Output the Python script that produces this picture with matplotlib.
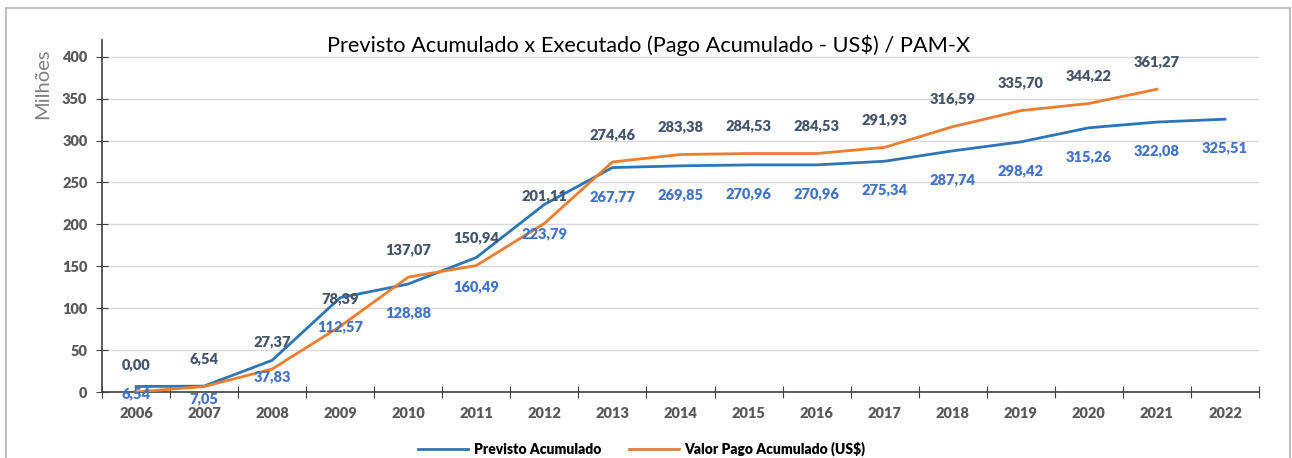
import matplotlib.pyplot as plt
from matplotlib.patches import Rectangle

plt.rcParams['font.family'] = ['Lato', 'DejaVu Sans']

anos = ['2006', '2007', '2008', '2009', '2010', '2011', '2012', '2013', '2014',
        '2015', '2016', '2017', '2018', '2019', '2020', '2021', '2022']
previsto = [6.54, 7.05, 37.83, 112.57, 128.88, 160.49, 223.79, 267.77, 269.85,
            270.96, 270.96, 275.34, 287.74, 298.42, 315.26, 322.08, 325.51]
pago = [0.00, 6.54, 27.37, 78.39, 137.07, 150.94, 201.11, 274.46, 283.38,
        284.53, 284.53, 291.93, 316.59, 335.70, 344.22, 361.27]

# deslocamento (px) dos rotulos azuis abaixo do ponto
desloc_azul = [7.5, 13, 16] + [29] * 14

cor_azul = '#2E75B6'
cor_laranja = '#ED7D31'
cor_rot_azul = '#4472C4'
cor_rot_escuro = '#44546A'
cinza = '#595959'
peso = 'heavy'


def fmt(v):
    return f'{v:.2f}'.replace('.', ',')


W, H = 1292, 458
fig = plt.figure(figsize=(W / 100, H / 100), dpi=100)

# moldura do grafico
fig.patches.append(Rectangle((6 / W, -0.1), (1290 - 6) / W, 1 - 8 / H + 0.1,
                             transform=fig.transFigure, fill=False,
                             edgecolor='#BFBFBF', linewidth=1.5))

ax = fig.add_axes([102 / W, 1 - 392 / H, (1259 - 102) / W, (392 - 40) / H])

x_prev = list(range(len(previsto)))
x_pago = list(range(len(pago)))
l1, = ax.plot(x_prev, previsto, color=cor_azul, lw=2, label='Previsto Acumulado', zorder=3)
l2, = ax.plot(x_pago, pago, color=cor_laranja, lw=2, label='Valor Pago Acumulado (US$)', zorder=3)

for xi, v in zip(x_pago, pago):
    ax.annotate(fmt(v), (xi, v), xytext=(0, 27.5 * 0.72), textcoords='offset points',
                ha='center', va='center', fontsize=10.5, fontweight=peso,
                color=cor_rot_escuro, zorder=4)
for xi, v, d in zip(x_prev, previsto, desloc_azul):
    ax.annotate(fmt(v), (xi, v), xytext=(0, -d * 0.72), textcoords='offset points',
                ha='center', va='center', fontsize=10.5, fontweight=peso,
                color=cor_rot_azul, zorder=4, annotation_clip=False)

ax.set_xlim(-0.5, len(anos) - 0.5)
ax.set_ylim(0, 420)
ax.set_yticks(range(0, 401, 50))
ax.set_xticks([i - 0.5 for i in range(len(anos) + 1)])
ax.set_xticklabels([])
ax.set_xticks(range(len(anos)), minor=True)
ax.set_xticklabels(anos, minor=True)
ax.tick_params(axis='x', which='major', direction='inout', length=9, color='#404040')
ax.tick_params(axis='x', which='minor', length=0, pad=11, labelsize=10.5, labelcolor=cinza)
ax.tick_params(axis='y', direction='inout', length=9, color='#404040', pad=6,
               labelsize=10.5, labelcolor=cinza)
for lab in ax.get_xticklabels(minor=True) + ax.get_yticklabels():
    lab.set_fontweight(peso)

ax.grid(axis='y', color='#D9D9D9', lw=1)
ax.set_axisbelow(True)
for s in ['top', 'right']:
    ax.spines[s].set_visible(False)
for s in ['left', 'bottom']:
    ax.spines[s].set_color('#404040')
    ax.spines[s].set_linewidth(1.2)

fig.text(649 / W, 1 - 45 / H, 'Previsto Acumulado x Executado (Pago Acumulado - US$) / PAM-X',
         ha='center', va='center', fontsize=15.7, color='#000000')
fig.text(43 / W, 1 - 84 / H, 'Milhões', rotation=90, ha='center', va='center',
         fontsize=14.5, color='#7F7F7F')

fig.legend(handles=[l1, l2], loc='center', bbox_to_anchor=(642 / W, 1 - 449 / H),
           ncol=2, frameon=False, prop={'weight': peso, 'size': 10},
           handlelength=3.6, handletextpad=0.4, columnspacing=2.0)

fig.savefig('out.png', dpi=100)
